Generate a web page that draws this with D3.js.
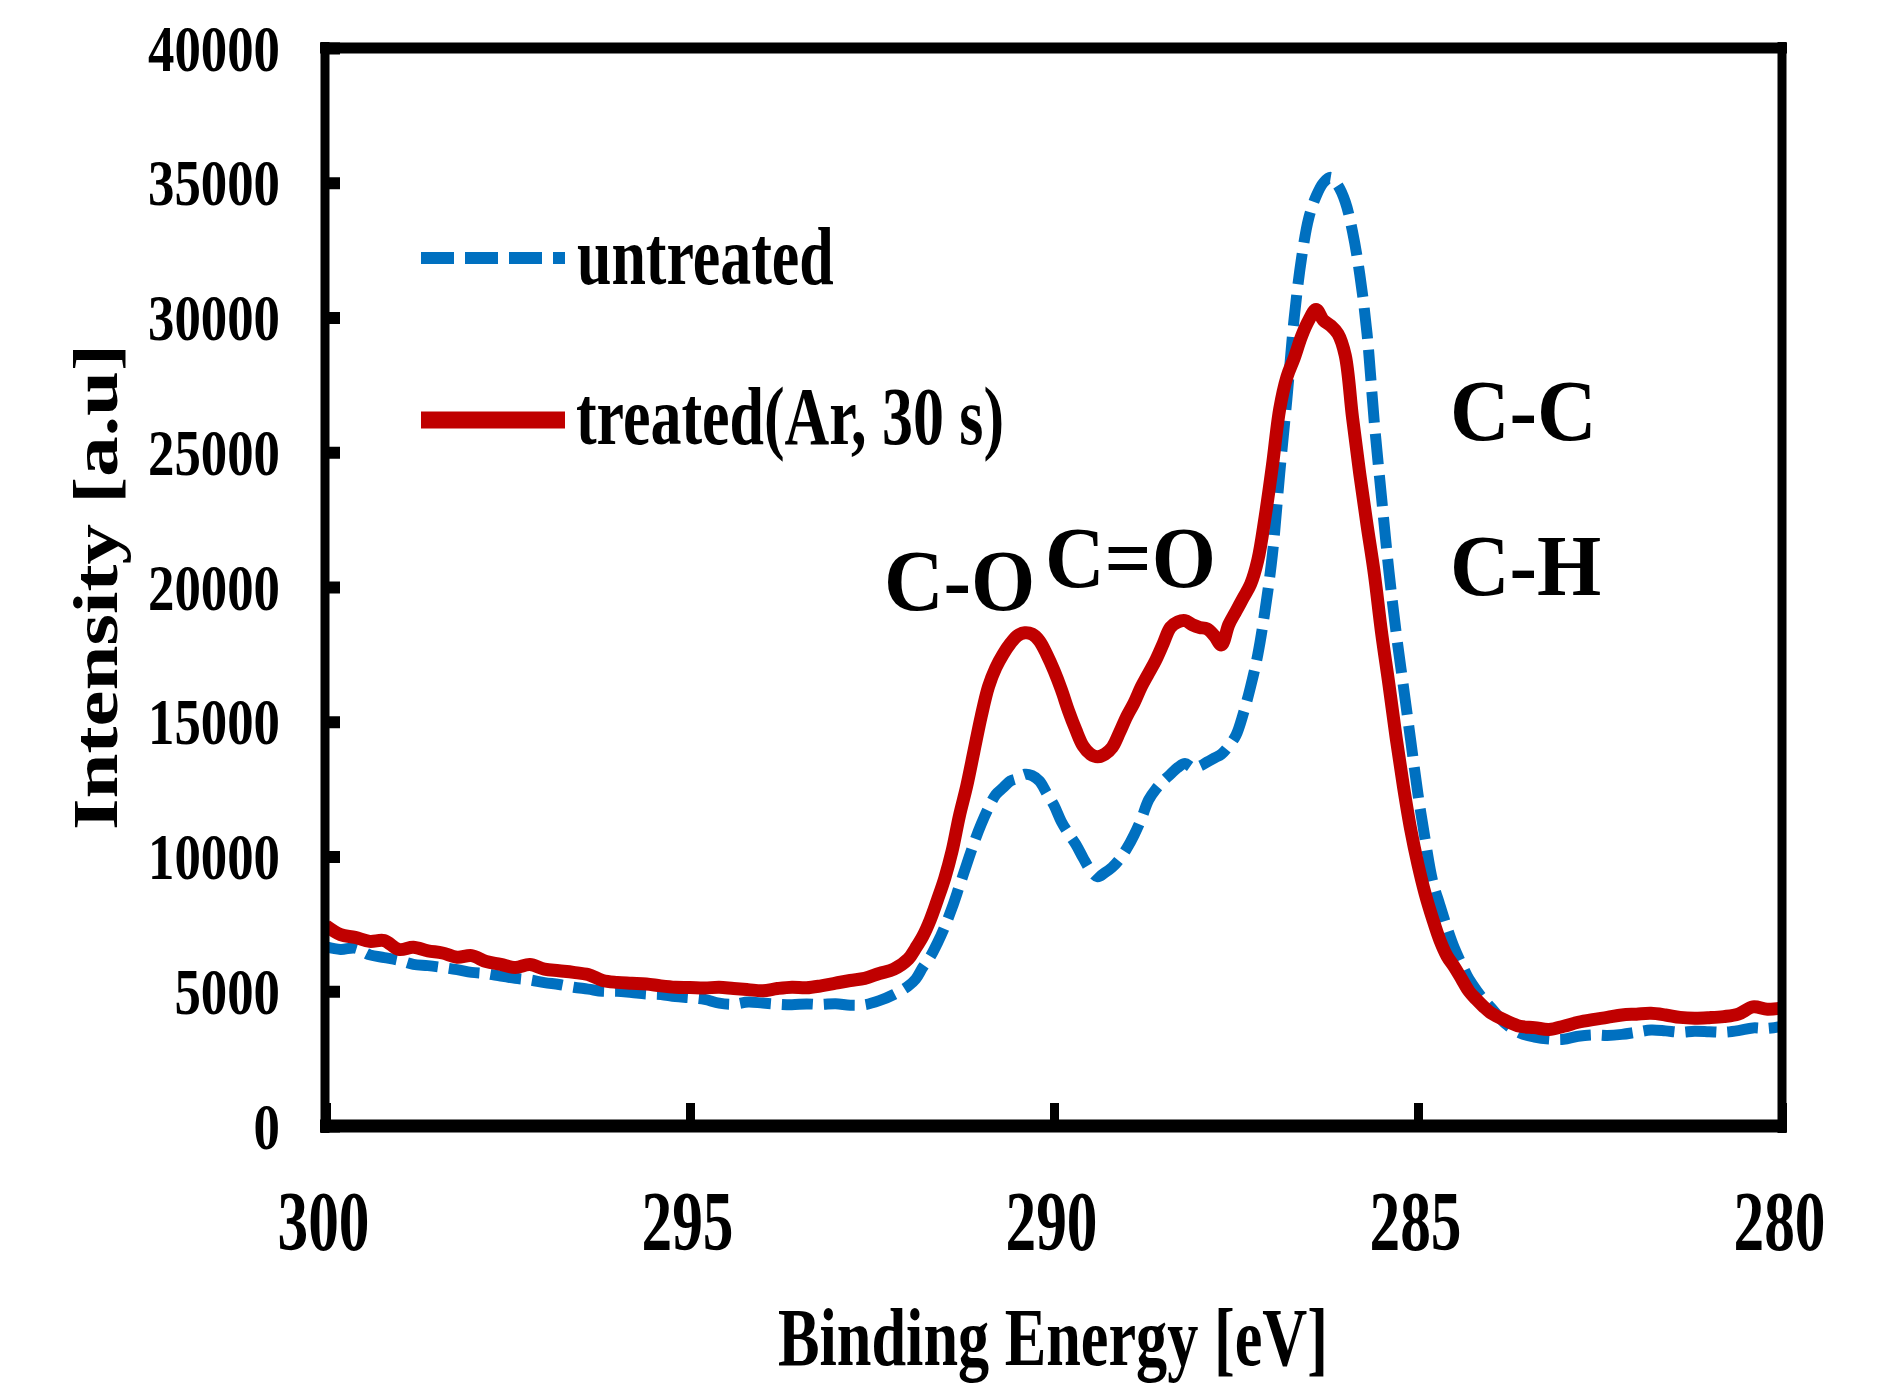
<!DOCTYPE html>
<html>
<head>
<meta charset="utf-8">
<script src="https://cdn.jsdelivr.net/npm/d3@7"></script>
<style>
  body { margin: 0; background: #fff; }
  text { font-family: "Liberation Serif", "Times New Roman", serif; font-weight: bold; fill: #000; }
</style>
</head>
<body>
<svg id="chart" width="1892" height="1389"></svg>
<script>
// binding energy (eV) - coarse on the flat parts, 0.1 steps over the peaks
var energy = [
  300, 299.8, 299.6, 299.4, 299.2, 299, 298.8, 298.6, 298.4, 298.2,
  298, 297.8, 297.6, 297.4, 297.2, 297, 296.8, 296.6, 296.4, 296.2,
  296, 295.8, 295.6, 295.4, 295.2, 295, 294.8, 294.6, 294.4, 294.2,
  294, 293.8, 293.6, 293.4, 293.2, 293, 292.8, 292.6, 292.4, 292.2,
  292, 291.9, 291.8, 291.7, 291.6, 291.5, 291.4, 291.3, 291.2, 291.1,
  291, 290.9, 290.8, 290.7, 290.6, 290.5, 290.4, 290.3, 290.2, 290.1,
  290, 289.9, 289.8, 289.7, 289.6, 289.5, 289.4, 289.3, 289.2, 289.1,
  289, 288.9, 288.8, 288.7, 288.6, 288.5, 288.4, 288.3, 288.2, 288.1,
  288, 287.9, 287.8, 287.7, 287.6, 287.5, 287.4, 287.3, 287.2, 287.1,
  287, 286.9, 286.8, 286.7, 286.6, 286.5, 286.4, 286.3, 286.2, 286.1,
  286, 285.9, 285.8, 285.7, 285.6, 285.5, 285.4, 285.3, 285.2, 285.1,
  285, 284.9, 284.8, 284.7, 284.6, 284.5, 284.4, 284.3, 284.2, 284.1,
  284, 283.8, 283.6, 283.4, 283.2, 283, 282.8, 282.6, 282.4, 282.2,
  282, 281.8, 281.6, 281.4, 281.2, 281, 280.8, 280.6, 280.4, 280.2, 280
];

var untreated = [
  6650, 6550, 6600, 6350, 6250, 6150, 6000, 5950, 5880, 5800,
  5700, 5650, 5560, 5480, 5420, 5320, 5250, 5150, 5080, 5000,
  5000, 4950, 4900, 4880, 4800, 4760, 4700, 4560, 4520, 4600,
  4560, 4520, 4500, 4530, 4510, 4540, 4480, 4500, 4650, 4880,
  5200, 5450, 5900, 6280, 6800, 7400, 8100, 8900, 9700, 10500,
  11200, 11800, 12300, 12550, 12800, 12900, 13050, 13000, 12800, 12350,
  11900, 11300, 10850, 10450, 9950, 9500, 9250, 9400, 9600, 9900,
  10300, 10800, 11400, 12100, 12500, 12800, 13050, 13300, 13450, 13300,
  13350, 13500, 13650, 13800, 14100, 14500, 15300, 16300, 17500, 19150,
  21200, 24200, 27000, 30000, 32200, 33700, 34500, 35000, 35200, 34900,
  34300, 33200, 31600, 29400, 26100, 23300, 20600, 18300, 16300, 14300,
  12300, 10600, 9100, 8200, 7350, 6600, 6000, 5450, 5050, 4700,
  4400, 3800, 3450, 3300, 3230, 3220, 3330, 3380, 3360, 3400,
  3480, 3560, 3530, 3480, 3520, 3500, 3480, 3540, 3640, 3620, 3700
];

var treated = [
  7430, 7100, 7000, 6850, 6880, 6550, 6630, 6500, 6420, 6260,
  6320, 6100, 6000, 5880, 5990, 5820, 5760, 5700, 5620, 5400,
  5330, 5300, 5270, 5200, 5150, 5140, 5120, 5150, 5100, 5060,
  5020, 5100, 5150, 5130, 5200, 5300, 5400, 5480, 5660, 5820,
  6200, 6600, 7050, 7650, 8400, 9200, 10200, 11500, 12600, 13900,
  15200, 16300, 17000, 17500, 17900, 18200, 18300, 18250, 18000, 17500,
  16900, 16200, 15400, 14700, 14100, 13800, 13700, 13800, 14050, 14600,
  15200, 15700, 16300, 16800, 17300, 17900, 18500, 18700, 18750, 18600,
  18500, 18450, 18200, 17850, 18600, 19100, 19600, 20100, 21000, 22600,
  24500, 26600, 27800, 28500, 29300, 29900, 30300, 29900, 29700, 29400,
  28600, 26300, 24200, 22300, 20500, 18300, 16400, 14400, 12600, 11000,
  9700, 8600, 7700, 6900, 6300, 5900, 5450, 5000, 4700, 4430,
  4200, 3920, 3700, 3650, 3580, 3700, 3850, 3950, 4030, 4120,
  4150, 4180, 4120, 4030, 4000, 4020, 4060, 4150, 4420, 4330, 4380
];

var xTicks = [300, 295, 290, 285, 280];
var yTicks = [0, 5000, 10000, 15000, 20000, 25000, 30000, 35000, 40000];
var seriesNames = ['untreated', 'treated(Ar, 30 s)'];
var peakNames = ['C-O', 'C=O', 'C-C', 'C-H'];

var blue = '#0070C0', red = '#C00000';

var svg = d3.select('#chart');
svg.append('rect').attr('width', 1892).attr('height', 1389).attr('fill', '#fff');

// plot box (left/right/top/bottom)
var pl = 326, pr = 1782, pt = 48, pb = 1126;

var x = d3.scaleLinear().domain([300, 280]).range([pl, pr]);
var y = d3.scaleLinear().domain([0, 40000]).range([pb, pt]);

// the whole picture is narrow, text is squeezed sideways
function squishText(g, str, px, py, size, sx, anchor) {
  return g.append('text')
    .attr('transform', 'translate(' + px + ',' + py + ') scale(' + sx + ',1)')
    .attr('font-size', size)
    .attr('text-anchor', anchor || 'start')
    .text(str);
}

var lineGen = d3.line()
  .x(function(d, i) { return x(energy[i]); })
  .y(function(d) { return y(d); })
  .curve(d3.curveCatmullRom.alpha(0.5));

svg.append('path')
  .attr('d', lineGen(untreated))
  .attr('fill', 'none')
  .attr('stroke', blue)
  .attr('stroke-width', 11)
  .attr('stroke-dasharray', '31,11');

svg.append('path')
  .attr('d', lineGen(treated))
  .attr('fill', 'none')
  .attr('stroke', red)
  .attr('stroke-width', 13)
  .attr('stroke-linejoin', 'round');

// y axis, ticks point inwards
var yAxis = d3.axisLeft(y).tickValues(yTicks).tickSize(-14).tickSizeOuter(0).tickFormat(d3.format('d'));
var gy = svg.append('g').attr('transform', 'translate(' + pl + ',0)').call(yAxis);
gy.select('.domain').remove();
gy.selectAll('.tick line').attr('stroke', '#000').attr('stroke-width', 12);
gy.selectAll('.tick text')
  .attr('x', null).attr('dy', null)
  .attr('font-size', 66)
  .attr('transform', 'translate(-46,22) scale(0.8,1)');

var xAxis = d3.axisBottom(x).tickValues(xTicks).tickSize(-23).tickSizeOuter(0);
var gx = svg.append('g').attr('transform', 'translate(0,' + pb + ')').call(xAxis);
gx.select('.domain').remove();
gx.selectAll('.tick line').attr('stroke', '#000').attr('stroke-width', 9);
gx.selectAll('.tick text')
  .attr('y', null).attr('dy', null)
  .attr('font-size', 84)
  .attr('transform', 'translate(-3,124) scale(0.73,1)');

// frame
var frame = svg.append('g').attr('stroke', '#000');
frame.append('line').attr('x1', pl - 1).attr('x2', pl - 1).attr('y1', pt - 6).attr('y2', pb + 7).attr('stroke-width', 9);
frame.append('line').attr('x1', pr).attr('x2', pr).attr('y1', pt - 6).attr('y2', pb + 7).attr('stroke-width', 9);
frame.append('line').attr('x1', pl - 6).attr('x2', pr + 5).attr('y1', pt).attr('y2', pt).attr('stroke-width', 11);
frame.append('line').attr('x1', pl - 6).attr('x2', pr + 5).attr('y1', pb).attr('y2', pb).attr('stroke-width', 13);

// axis titles
squishText(svg, 'Binding Energy [eV]', 1053, 1365, 83, 0.75, 'middle');
svg.append('text')
  .attr('transform', 'translate(117,587) scale(0.78,1) rotate(-90)')
  .attr('font-size', 81)
  .attr('text-anchor', 'middle')
  .text('Intensity [a.u]');

// legend
var legend = svg.append('g');
legend.append('line').attr('x1', 421).attr('x2', 565).attr('y1', 258).attr('y2', 258)
  .attr('stroke', blue).attr('stroke-width', 12).attr('stroke-dasharray', '33,11');
legend.append('line').attr('x1', 421).attr('x2', 565).attr('y1', 420).attr('y2', 420)
  .attr('stroke', red).attr('stroke-width', 17);
squishText(legend, seriesNames[0], 577, 284, 82, 0.755);
squishText(legend, seriesNames[1], 576, 444, 82, 0.755);

// peak labels
var peakPos = [[884, 610], [1045, 587], [1450, 440], [1450, 595]];
peakNames.forEach(function(p, i) {
  squishText(svg, p, peakPos[i][0], peakPos[i][1], 86, 0.96);
});
</script>
</body>
</html>
